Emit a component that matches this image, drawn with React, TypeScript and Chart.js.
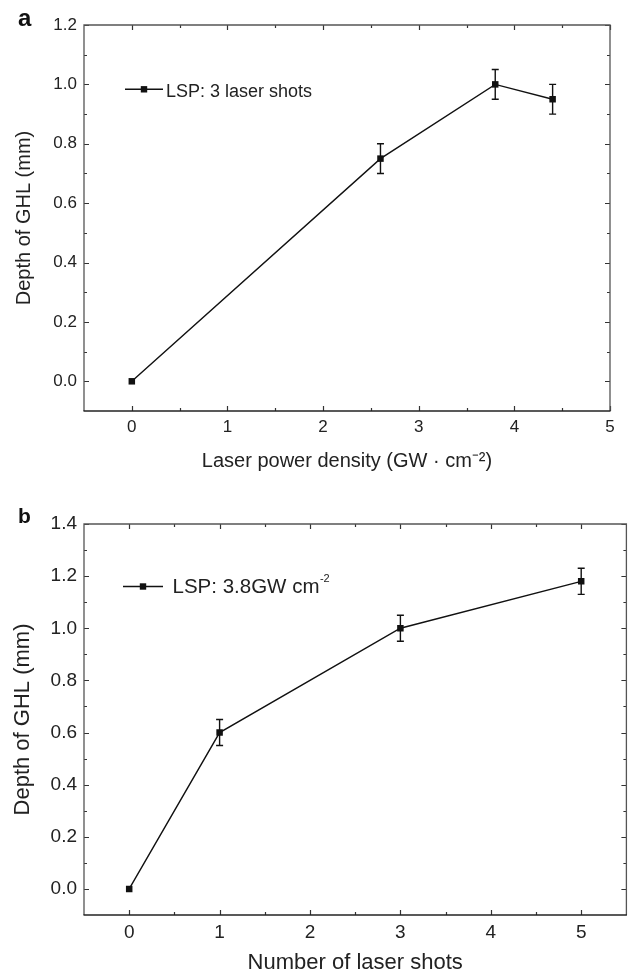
import React, { useEffect, useRef } from "react";
import { Chart, registerables } from "chart.js";

Chart.register(...registerables);

// ---------- Data ----------
// Panel a
const powerDensity = [0, 2.6, 3.8, 4.4];
const depthA = [0, 0.75, 1.0, 0.95];
const errA = [0, 0.05, 0.05, 0.05];
const xTicksA = [0, 1, 2, 3, 4, 5];
const yTicksA = [0, 0.2, 0.4, 0.6, 0.8, 1.0, 1.2];
const xTitleA = "Laser power density (GW · cm⁻²)";
const legendA = "LSP: 3 laser shots";
const legendSupA = "";

// Panel b
const laserShots = [0, 1, 3, 5];
const depthB = [0, 0.6, 1.0, 1.18];
const errB = [0, 0.05, 0.05, 0.05];
const xTicksB = [0, 1, 2, 3, 4, 5];
const yTicksB = [0, 0.2, 0.4, 0.6, 0.8, 1.0, 1.2, 1.4];
const xTitleB = "Number of laser shots";
const legendB = "LSP: 3.8GW cm";
const legendSupB = "-2";

const yTitle = "Depth of GHL (mm)";

const FONT = "'Liberation Sans', Arial, Helvetica, sans-serif";
const INK = "#111";
const TEXT = "#222";

type Panel = {
  letter: string;
  x: number[];
  y: number[];
  err: number[];
  xMin: number;
  xMax: number;
  yMin: number;
  yMax: number;
  xTicks: number[];
  yTicks: number[];
  xDigits: number;
  yDigits: number;
  xTitle: string;
  legend: string;
  legendSup: string;
  // layout
  top: number;
  width: number;
  height: number;
  padTop: number;
  padRight: number;
  yAxisWidth: number;
  xAxisHeight: number;
  tickFont: number;
  titleFont: number;
  legendFont: number;
  letterFont: number;
  xTickPad: number;
  xTitlePad: number;
  yTitlePad: number;
  letterX: number;
  letterY: number;
  legendDy: number;
  legendSeg: [number, number];
  legendMark: number;
  legendTextDx: number;
  legendBaseDy: number;
};

const panels: Panel[] = [
  {
    letter: "a",
    x: powerDensity,
    y: depthA,
    err: errA,
    xMin: -0.5,
    xMax: 5,
    yMin: -0.1,
    yMax: 1.2,
    xTicks: xTicksA,
    yTicks: yTicksA,
    xDigits: 0,
    yDigits: 1,
    xTitle: xTitleA,
    legend: legendA,
    legendSup: legendSupA,
    top: 0,
    width: 631,
    height: 487,
    padTop: 25,
    padRight: 21,
    yAxisWidth: 84,
    xAxisHeight: 76,
    tickFont: 17,
    titleFont: 20,
    legendFont: 18,
    letterFont: 24,
    xTickPad: 6,
    xTitlePad: 14,
    yTitlePad: 12,
    letterX: 18,
    letterY: 26,
    legendDy: 64.3,
    legendSeg: [41, 79],
    legendMark: 60,
    legendTextDx: 82,
    legendBaseDy: 7.2,
  },
  {
    letter: "b",
    x: laserShots,
    y: depthB,
    err: errB,
    xMin: -0.5,
    xMax: 5.5,
    yMin: -0.1,
    yMax: 1.4,
    xTicks: xTicksB,
    yTicks: yTicksB,
    xDigits: 0,
    yDigits: 1,
    xTitle: xTitleB,
    legend: legendB,
    legendSup: legendSupB,
    top: 487,
    width: 631,
    height: 486,
    padTop: 37,
    padRight: 1,
    yAxisWidth: 84,
    xAxisHeight: 58,
    tickFont: 19,
    titleFont: 22,
    legendFont: 20.5,
    letterFont: 21,
    xTickPad: 6,
    xTitlePad: -3,
    yTitlePad: 10,
    letterX: 18,
    letterY: 36,
    legendDy: 62.5,
    legendSeg: [39, 79],
    legendMark: 59,
    legendTextDx: 88.5,
    legendBaseDy: 6.3,
  },
];

function midpoints(ticks: number[], min: number, max: number): number[] {
  const out: number[] = [];
  for (let i = 0; i < ticks.length - 1; i++) {
    out.push((ticks[i] + ticks[i + 1]) / 2);
  }
  const step = ticks[1] - ticks[0];
  const before = ticks[0] - step / 2;
  const after = ticks[ticks.length - 1] + step / 2;
  if (before > min + 1e-9) out.unshift(before);
  if (after < max - 1e-9) out.push(after);
  return out;
}

const decorPlugin = {
  id: "panelDecor",
  afterDatasetsDraw(chart: any, _args: any, opts: any) {
    const p: Panel = opts.panel;
    const xs = chart.scales.x;
    const ys = chart.scales.y;
    const ctx = chart.ctx;
    ctx.save();
    ctx.strokeStyle = INK;
    ctx.lineWidth = 1.4;
    p.x.forEach((xv, i) => {
      const e = p.err[i];
      if (!e) return;
      const px = xs.getPixelForValue(xv);
      const t = ys.getPixelForValue(p.y[i] + e);
      const b = ys.getPixelForValue(p.y[i] - e);
      ctx.beginPath();
      ctx.moveTo(px, t);
      ctx.lineTo(px, b);
      ctx.moveTo(px - 3.5, t);
      ctx.lineTo(px + 3.5, t);
      ctx.moveTo(px - 3.5, b);
      ctx.lineTo(px + 3.5, b);
      ctx.stroke();
    });
    ctx.restore();
  },
  afterDraw(chart: any, _args: any, opts: any) {
    const p: Panel = opts.panel;
    const ctx = chart.ctx;
    const { left, right, top, bottom } = chart.chartArea;
    const xs = chart.scales.x;
    const ys = chart.scales.y;
    ctx.save();

    // ticks (inward on all four sides)
    ctx.strokeStyle = "#333";
    ctx.lineWidth = 1.2;
    const major = 5;
    const minor = 3;
    const drawX = (v: number, len: number) => {
      const px = Math.round(xs.getPixelForValue(v)) + 0.5;
      ctx.beginPath();
      ctx.moveTo(px, bottom);
      ctx.lineTo(px, bottom - len);
      ctx.moveTo(px, top);
      ctx.lineTo(px, top + len);
      ctx.stroke();
    };
    const drawY = (v: number, len: number) => {
      const py = Math.round(ys.getPixelForValue(v)) + 0.5;
      ctx.beginPath();
      ctx.moveTo(left, py);
      ctx.lineTo(left + len, py);
      ctx.moveTo(right, py);
      ctx.lineTo(right - len, py);
      ctx.stroke();
    };
    p.xTicks.forEach((v) => drawX(v, major));
    midpoints(p.xTicks, p.xMin, p.xMax).forEach((v) => drawX(v, minor));
    p.yTicks.forEach((v) => drawY(v, major));
    midpoints(p.yTicks, p.yMin, p.yMax).forEach((v) => drawY(v, minor));

    // frame
    ctx.lineWidth = 1.3;
    ctx.strokeStyle = "#555";
    ctx.beginPath();
    ctx.moveTo(left, bottom);
    ctx.lineTo(left, top);
    ctx.lineTo(right, top);
    ctx.lineTo(right, bottom);
    ctx.stroke();
    ctx.lineWidth = 1.7;
    ctx.strokeStyle = "#222";
    ctx.beginPath();
    ctx.moveTo(left - 0.5, bottom);
    ctx.lineTo(right + 0.5, bottom);
    ctx.stroke();

    // legend
    const ly = top + p.legendDy;
    ctx.strokeStyle = INK;
    ctx.lineWidth = 1.4;
    ctx.beginPath();
    ctx.moveTo(left + p.legendSeg[0], ly);
    ctx.lineTo(left + p.legendSeg[1], ly);
    ctx.stroke();
    ctx.fillStyle = INK;
    const s = 6.4;
    ctx.fillRect(left + p.legendMark - s / 2, ly - s / 2, s, s);
    ctx.fillStyle = TEXT;
    ctx.font = `${p.legendFont}px ${FONT}`;
    ctx.textAlign = "left";
    ctx.textBaseline = "alphabetic";
    const tx = left + p.legendTextDx;
    const ty = ly + p.legendBaseDy;
    ctx.fillText(p.legend, tx, ty);
    if (p.legendSup) {
      const w = ctx.measureText(p.legend).width;
      ctx.font = `${Math.round(p.legendFont * 0.55)}px ${FONT}`;
      ctx.fillText(p.legendSup, tx + w + 0.5, ty - p.legendFont * 0.55);
    }

    // panel letter
    ctx.font = `bold ${p.letterFont}px ${FONT}`;
    ctx.fillStyle = "#111";
    ctx.fillText(p.letter, p.letterX, p.letterY);
    ctx.restore();
  },
};

function makeConfig(p: Panel): any {
  return {
    type: "scatter",
    data: {
      datasets: [
        {
          label: p.legend,
          data: p.x.map((xv, i) => ({ x: xv, y: p.y[i] })),
          showLine: true,
          borderColor: INK,
          borderWidth: 1.4,
          backgroundColor: INK,
          pointStyle: "rect",
          pointRadius: 4.6,
          pointBorderWidth: 0,
          pointBackgroundColor: INK,
          tension: 0,
        },
      ],
    },
    options: {
      responsive: false,
      animation: false,
      devicePixelRatio: 1,
      layout: {
        padding: { top: p.padTop, right: p.padRight, left: 0, bottom: 0 },
      },
      plugins: {
        legend: { display: false },
        tooltip: { enabled: false },
        panelDecor: { panel: p },
      },
      scales: {
        x: {
          type: "linear",
          position: "bottom",
          min: p.xMin,
          max: p.xMax,
          grid: { display: false, drawTicks: false },
          border: { display: false },
          afterBuildTicks: (scale: any) => {
            scale.ticks = p.xTicks.map((v) => ({ value: v }));
          },
          afterFit: (scale: any) => {
            scale.height = p.xAxisHeight;
          },
          ticks: {
            autoSkip: false,
            maxRotation: 0,
            padding: p.xTickPad,
            color: TEXT,
            font: { size: p.tickFont, family: FONT },
            callback: (v: any) => Number(v).toFixed(p.xDigits),
          },
          title: {
            display: true,
            text: p.xTitle,
            color: TEXT,
            font: { size: p.titleFont, family: FONT },
            padding: { top: 0, bottom: p.xTitlePad },
          },
        },
        y: {
          type: "linear",
          position: "left",
          min: p.yMin,
          max: p.yMax,
          grid: { display: false, drawTicks: false },
          border: { display: false },
          afterBuildTicks: (scale: any) => {
            scale.ticks = p.yTicks.map((v) => ({ value: v }));
          },
          afterFit: (scale: any) => {
            scale.width = p.yAxisWidth;
          },
          ticks: {
            autoSkip: false,
            padding: 7,
            color: TEXT,
            font: { size: p.tickFont, family: FONT },
            callback: (v: any) => Number(v).toFixed(p.yDigits),
          },
          title: {
            display: true,
            text: yTitle,
            color: TEXT,
            font: { size: p.titleFont, family: FONT },
            padding: { top: p.yTitlePad, bottom: 0 },
          },
        },
      },
    },
    plugins: [decorPlugin],
  };
}

function PanelChart({ p }: { p: Panel }) {
  const ref = useRef<HTMLCanvasElement | null>(null);
  useEffect(() => {
    if (!ref.current) return;
    const chart = new Chart(ref.current, makeConfig(p));
    return () => chart.destroy();
  }, [p]);
  return (
    <canvas
      ref={ref}
      width={p.width}
      height={p.height}
      style={{
        position: "absolute",
        left: 0,
        top: p.top,
        width: p.width,
        height: p.height,
        display: "block",
      }}
    />
  );
}

export default function App() {
  return (
    <div
      style={{
        position: "absolute",
        left: 0,
        top: 0,
        width: 631,
        height: 973,
        background: "#fff",
        overflow: "hidden",
      }}
    >
      {panels.map((p) => (
        <PanelChart key={p.letter} p={p} />
      ))}
    </div>
  );
}
